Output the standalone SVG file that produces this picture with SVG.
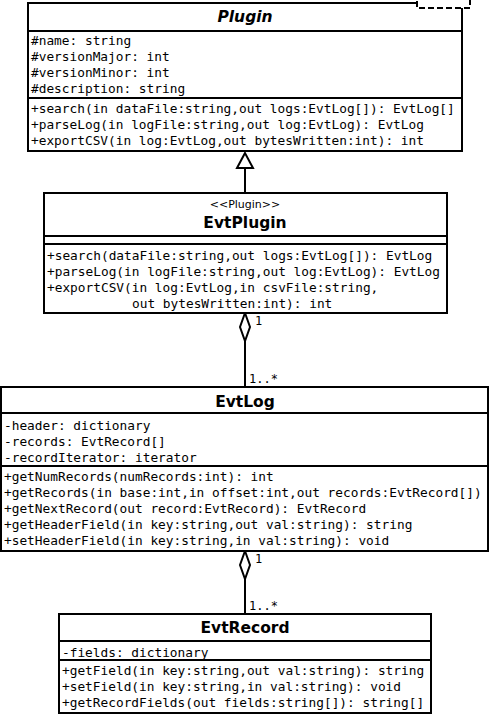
<svg xmlns="http://www.w3.org/2000/svg" width="491" height="716" viewBox="0 0 491 716">
<style>
.box{fill:#fff;stroke:#000;stroke-width:2}
.div{stroke:#000;stroke-width:2}
.m{font-family:"DejaVu Sans Mono","Liberation Mono",monospace;font-size:12.8px;fill:#000}
.t{font-family:"DejaVu Sans","Liberation Sans",sans-serif;font-size:15.5px;font-weight:bold;fill:#000;text-anchor:middle}
.st{font-family:"DejaVu Sans","Liberation Sans",sans-serif;font-size:11px;fill:#000;text-anchor:middle}
.c{stroke:#000;stroke-width:2;fill:none}
.lbl{font-family:"DejaVu Sans Mono","Liberation Mono",monospace;font-size:12px;fill:#000}
</style>
<rect width="491" height="716" fill="#fff"/>
<g id="connectors">
<line class="c" x1="245" y1="168" x2="245" y2="193"/>
<polygon points="245,153 237,168 253,168" fill="#fff" stroke="#000" stroke-width="2"/>
<line class="c" x1="245" y1="341" x2="245" y2="387"/>
<polygon points="245,313 250,327 245,341 240,327" fill="#fff" stroke="#000" stroke-width="2"/>
<text class="lbl" x="255" y="325">1</text>
<text class="lbl" x="249" y="383">1..*</text>
<line class="c" x1="245" y1="579" x2="245" y2="614"/>
<polygon points="245,551 250,565 245,579 240,565" fill="#fff" stroke="#000" stroke-width="2"/>
<text class="lbl" x="255" y="563">1</text>
<text class="lbl" x="249" y="610">1..*</text>
</g>
<g id="Plugin">
<rect class="box" x="28" y="3" width="434" height="148"/>
<line class="div" x1="28" y1="31" x2="462" y2="31"/>
<line class="div" x1="28" y1="98" x2="462" y2="98"/>
<rect x="417" y="-2" width="53" height="10" fill="#fff" stroke="#000" stroke-width="2" stroke-dasharray="6,3"/>
<text class="t" x="245" y="22" font-style="italic">Plugin</text>
<text class="m" x="31" y="45">#name: string</text>
<text class="m" x="31" y="61">#versionMajor: int</text>
<text class="m" x="31" y="77">#versionMinor: int</text>
<text class="m" x="31" y="93">#description: string</text>
<text class="m" x="31" y="113">+search(in dataFile:string,out logs:EvtLog[]): EvtLog[]</text>
<text class="m" x="31" y="129">+parseLog(in logFile:string,out log:EvtLog): EvtLog</text>
<text class="m" x="31" y="145">+exportCSV(in log:EvtLog,out bytesWritten:int): int</text>
</g>
<g id="EvtPlugin">
<rect class="box" x="44" y="193" width="403" height="120"/>
<line class="div" x1="44" y1="236" x2="447" y2="236"/>
<line class="div" x1="44" y1="244" x2="447" y2="244"/>
<text class="st" x="245" y="208">&lt;&lt;Plugin&gt;&gt;</text>
<text class="t" x="245" y="228">EvtPlugin</text>
<text class="m" x="47" y="260">+search(dataFile:string,out logs:EvtLog[]): EvtLog</text>
<text class="m" x="47" y="276">+parseLog(in logFile:string,out log:EvtLog): EvtLog</text>
<text class="m" x="47" y="292">+exportCSV(in log:EvtLog,in csvFile:string,</text>
<text class="m" x="132" y="308">out bytesWritten:int): int</text>
</g>
<g id="EvtLog">
<rect class="box" x="1" y="387" width="487" height="164"/>
<line class="div" x1="1" y1="413" x2="488" y2="413"/>
<line class="div" x1="1" y1="466" x2="488" y2="466"/>
<text class="t" x="245" y="407">EvtLog</text>
<text class="m" x="4" y="430">-header: dictionary</text>
<text class="m" x="4" y="446">-records: EvtRecord[]</text>
<text class="m" x="4" y="462">-recordIterator: iterator</text>
<text class="m" x="4" y="481">+getNumRecords(numRecords:int): int</text>
<text class="m" x="4" y="497">+getRecords(in base:int,in offset:int,out records:EvtRecord[])</text>
<text class="m" x="4" y="513">+getNextRecord(out record:EvtRecord): EvtRecord</text>
<text class="m" x="4" y="529">+getHeaderField(in key:string,out val:string): string</text>
<text class="m" x="4" y="545">+setHeaderField(in key:string,in val:string): void</text>
</g>
<g id="EvtRecord">
<rect class="box" x="59" y="614" width="372" height="99"/>
<line class="div" x1="59" y1="641" x2="431" y2="641"/>
<line class="div" x1="59" y1="660" x2="431" y2="660"/>
<text class="t" x="245" y="633">EvtRecord</text>
<text class="m" x="62" y="657">-fields: dictionary</text>
<text class="m" x="62" y="675">+getField(in key:string,out val:string): string</text>
<text class="m" x="62" y="691">+setField(in key:string,in val:string): void</text>
<text class="m" x="62" y="707">+getRecordFields(out fields:string[]): string[]</text>
</g>
</svg>
